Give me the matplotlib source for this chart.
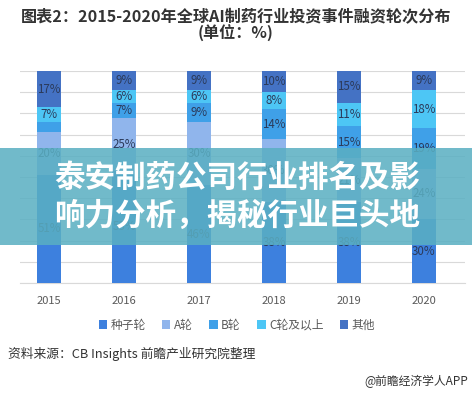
import matplotlib
matplotlib.use("Agg")
import matplotlib.pyplot as plt
from matplotlib.patches import Rectangle
import numpy as np

plt.rcParams['font.family'] = ['Noto Sans CJK SC', 'DejaVu Sans']

years = ["2015", "2016", "2017", "2018", "2019", "2020"]
series_names = ["种子轮", "A轮", "B轮", "C轮及以上", "其他"]
seed = [51, 53, 46, 38, 38, 30]
round_a = [20, 25, 30, 30, 21, 24]
round_b = [5, 7, 9, 14, 15, 19]
round_c = [7, 6, 6, 8, 11, 18]
other = [17, 9, 9, 10, 15, 9]
colors = ["#3D80DE", "#90B5EC", "#3FA0E8", "#4DC6F5", "#4472C4"]

title = "图表2：2015-2020年全球AI制药行业投资事件融资轮次分布\n(单位：%)"
banner = "泰安制药公司行业排名及影\n响力分析，揭秘行业巨头地"

fig = plt.figure(figsize=(4.72, 3.94), dpi=100)
ax = fig.add_axes([20/472, 1-283/394, 445/472, (283-71)/394])

x = np.arange(len(years))
bottom = np.zeros(len(years))
data = [seed, round_a, round_b, round_c, other]
for name, vals, c in zip(series_names, data, colors):
    vals = np.array(vals, dtype=float)
    ax.bar(x, vals, 0.31, bottom=bottom, color=c, label=name, zorder=3)
    for xi, b, v in zip(x, bottom, vals):
        if v >= 6:
            ax.text(xi, b + v/2, f"{int(v)}%", ha='center', va='center',
                    fontsize=8.3, color='#2B3A5A', zorder=4)
    bottom += vals

ax.set_ylim(0, 100)
ax.set_xlim(-0.387, 5.547)
ax.set_yticks(np.arange(0, 101, 10))
ax.yaxis.grid(True, color='#D9D9D9', linewidth=0.8, zorder=0)
ax.tick_params(axis='y', left=False, labelleft=False)
ax.tick_params(axis='x', bottom=False, labelsize=8, colors='#595959', pad=6)
ax.set_xticks(x)
ax.set_xticklabels(years)
for s in ['top', 'right', 'left']:
    ax.spines[s].set_visible(False)
ax.spines['bottom'].set_color('#D9D9D9')

leg = fig.legend(loc='center', bbox_to_anchor=(237/472, 1-325/394), ncol=5,
                 frameon=False, fontsize=8.5, handlelength=0.7, handleheight=0.7,
                 handletextpad=0.3, columnspacing=1.4)
for t in leg.get_texts():
    t.set_color('#595959')

fig.text(236/472, 1-25/394, title, ha='center', va='center', fontsize=11.6,
         fontweight='bold', color='#333333', linespacing=1.0)

fig.text(8/472, 1-354/394, "资料来源：CB Insights 前瞻产业研究院整理", ha='left',
         va='center', fontsize=9.2, color='#333333')
fig.text(468/472, 1-381/394, "@前瞻经济学人APP", ha='right', va='center',
         fontsize=8.5, color='#333333')

# overlay banner
fig.patches.append(Rectangle((0, 1-245/394), 1, (245-148)/394,
                             transform=fig.transFigure, facecolor='#5AAFC2',
                             alpha=0.86, edgecolor='none', zorder=5))
fig.text(237/472, 1-197/394, banner, ha='center', va='center', fontsize=22,
         fontweight='bold', color='white', linespacing=1.25, zorder=6)

fig.savefig("out.png", dpi=100)
